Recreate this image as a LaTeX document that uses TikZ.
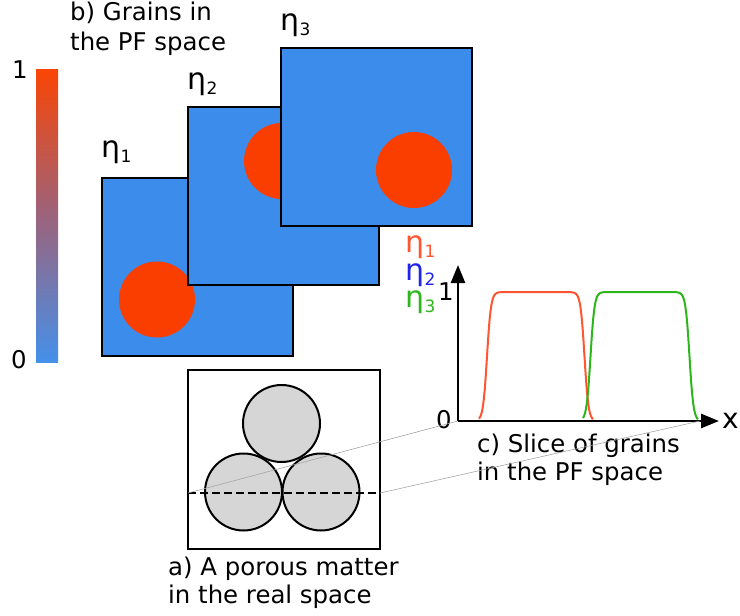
\documentclass[tikz,border=0pt]{standalone}
\usepackage{fontspec}
\setmainfont{DejaVu Sans}
\usetikzlibrary{arrows.meta}
\definecolor{sqblue}{HTML}{3C8CEC}
\definecolor{grain}{HTML}{F93E00}
\definecolor{barTop}{HTML}{FA4504}
\definecolor{barMid}{HTML}{9C637C}
\definecolor{barBot}{HTML}{4590EA}
\definecolor{cRed}{HTML}{FF5530}
\definecolor{cBlue}{HTML}{2222EE}
\definecolor{cGreen}{HTML}{2DB51C}
\definecolor{pore}{HTML}{D6D6D6}
\newcommand\lblfont{\fontsize{24.4}{28}\selectfont}
\newcommand\etal[1]{{\fontsize{30}{30}\selectfont η}\kern0.5pt\raisebox{-5pt}{\fontsize{17}{17}\selectfont #1}}
\begin{document}
\begin{tikzpicture}[x=1pt,y=-1pt,
  declare function={sg(\t)=tanh(max(-4,min(4,\t)));},
  txt/.style={inner sep=0pt, anchor=base west, font=\lblfont},
  sq/.style={draw=black, line width=2pt, fill=sqblue, minimum width=191pt, minimum height=178pt, inner sep=0pt},
  grainc/.style={circle, fill=grain, minimum size=76pt, inner sep=0pt},
  porec/.style={circle, draw=black, line width=2pt, fill=pore, minimum size=77pt, inner sep=0pt},
  axis/.style={line width=2.6pt, -{Triangle[length=18pt,width=14pt]}},
  guide/.style={draw=black!35, line width=0.6pt}]
\useasboundingbox (0,0) rectangle (740,616);

% colour bar
\shade[top color=barTop, bottom color=barBot, middle color=barMid] (36,69) rectangle (58,362);
\node[txt] (bar1) at (12,78) {1};
\node[txt] (bar0) at (11,368) {0};

% b) grains in PF space
\node[txt] (bt1) at (70,20) {b) Grains in};
\node[txt] (bt2) at (70,50) {the PF space};

\node[sq] (s1) at (197.5,267) {};
\node[grainc] (g1) at (157,299.5) {};
\node[sq] (s2) at (283.5,196) {};
\node[grainc] (g2) at (282,161) {};
\node[sq] (s3) at (376.5,137) {};
\node[grainc] (g3) at (414,170) {};

\node[txt] (e1) at (101,157) {\etal{1}};
\node[txt] (e2) at (187,89) {\etal{2}};
\node[txt] (e3) at (280,30) {\etal{3}};

% a) real space
\node[draw=black, line width=2pt, minimum width=192pt, minimum height=179pt, inner sep=0pt] (rb) at (284,459.5) {};
\node[porec] (p1) at (281.5,423.5) {};
\node[porec] (p2) at (243.5,492) {};
\node[porec] (p3) at (321,492) {};
\coordinate (dl) at (188,493);
\coordinate (dr) at (380,493);
\draw[line width=1.6pt, dash pattern=on 8pt off 4pt] (dl) -- (dr);
\node[txt] (at1) at (168,575) {a) A porous matter};
\node[txt] (at2) at (168,603) {in the real space};

% c) slice
\coordinate (o) at (458,421);
\coordinate (ytop) at (458,265);
\coordinate (xend) at (719,421);
\coordinate (xg) at (700,421);
\draw[cRed, line width=2pt] plot[domain=479:593, samples=120] (\x, {421-129*0.5*(sg((\x-487)/4)-sg((\x-584.5)/4))});
\draw[cGreen, line width=2pt] plot[domain=583:698, samples=120] (\x, {421-129*0.5*(sg((\x-590.5)/4)-sg((\x-689.5)/4))});
\draw[axis] (o) -- (ytop);
\draw[axis] (o) -- (xend);
\node[txt] (y1) at (438,300) {1};
\node[txt] (y0) at (436,428) {0};
\node[txt, font=\fontsize{28}{30}\selectfont] (xl) at (722,428) {x};
\node[txt, text=cRed] (l1) at (405,252) {\etal{1}};
\node[txt, text=cBlue] (l2) at (405,280) {\etal{2}};
\node[txt, text=cGreen] (l3) at (405,307) {\etal{3}};
\node[txt] (ct1) at (477,452) {c) Slice of grains};
\node[txt] (ct2) at (477,480) {in the PF space};

\draw[guide] (dl) -- (o);
\draw[guide] (dr) -- (xg);
\end{tikzpicture}
\end{document}
